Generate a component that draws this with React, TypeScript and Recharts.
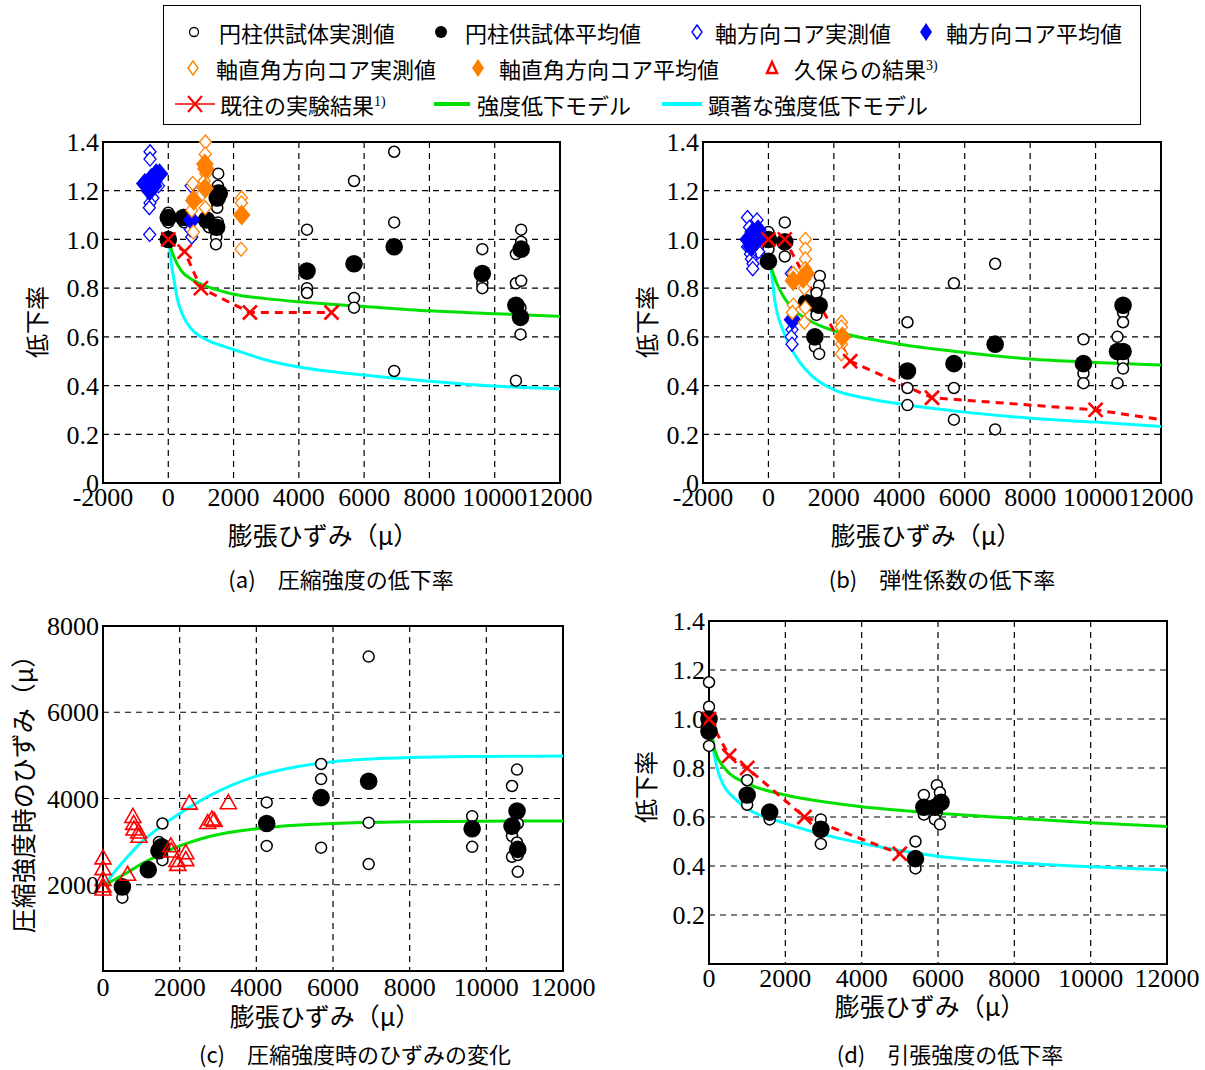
import React from 'react';
import { ScatterChart, Scatter, XAxis, YAxis, CartesianGrid, ReferenceArea } from 'recharts';

// ---- (a) 圧縮強度の低下率 ----
const aCylMeas = [
  [0, 1.11], [0, 1.07], [20, 0.99], [470, 1.1], [480, 1.07],
  [1150, 1.09], [1200, 1.06], [1250, 1.05],
  [1530, 1.27], [1520, 1.22], [1500, 1.2], [1490, 1.15], [1500, 1.13], [1520, 1.07], [1480, 1.03], [1470, 1.01], [1460, 0.98],
  [4250, 1.04], [4250, 0.8], [4250, 0.78],
  [5690, 1.24], [5690, 0.76], [5690, 0.72],
  [6920, 1.36], [6920, 1.07], [6920, 0.46],
  [9620, 0.96], [9620, 0.82], [9620, 0.8],
  [10810, 1.04], [10810, 0.99], [10650, 0.94], [10650, 0.82], [10810, 0.83], [10790, 0.72], [10790, 0.61], [10650, 0.42],
];
const aCylAvg = [
  [0, 1.09], [0, 1.0], [470, 1.09], [1170, 1.08], [1480, 1.05], [1500, 1.17], [1560, 1.19],
  [4250, 0.87], [5690, 0.9], [6920, 0.97], [9620, 0.86], [10810, 0.96], [10650, 0.73], [10790, 0.68],
];
const aAxMeas = [
  [-560, 1.36], [-560, 1.33], [-480, 1.26], [-420, 1.23], [-520, 1.2], [-470, 1.17], [-560, 1.15], [-580, 1.13],
  [-570, 1.02], [-300, 1.22], [-380, 1.24], [700, 1.22], [720, 1.01], [680, 1.04],
];
const aAxAvg = [[-720, 1.23], [-520, 1.25], [-370, 1.27], [-270, 1.27], [-570, 1.2], [-450, 1.22], [710, 1.08]];
const aTrMeas = [
  [1140, 1.4], [1130, 1.35], [1120, 1.3], [1150, 1.27], [1100, 1.24], [1130, 1.13], [1000, 1.18],
  [750, 1.23], [760, 1.17], [720, 1.12], [770, 1.03],
  [2240, 1.17], [2240, 1.15], [2250, 1.1], [2230, 0.96],
];
const aTrAvg = [[1120, 1.31], [1150, 1.29], [1130, 1.21], [780, 1.16], [2250, 1.1]];
const aPrev = [[0, 1.0], [500, 0.95], [1000, 0.8], [2500, 0.7], [5000, 0.7]];
const aModel = [
  [40, 0.98], [180, 0.926], [400, 0.871], [710, 0.837], [1010, 0.816], [1500, 0.793], [2000, 0.775],
  [3000, 0.757], [4000, 0.744], [6000, 0.725], [8000, 0.707], [10000, 0.695], [12000, 0.684],
];
const aSevere = [
  [40, 0.97], [95, 0.9], [180, 0.83], [270, 0.76], [430, 0.693], [710, 0.632], [1000, 0.6], [1400, 0.575],
  [2000, 0.548], [3000, 0.505], [4000, 0.476], [6000, 0.443], [8000, 0.418], [10000, 0.398], [12000, 0.386],
];

// ---- (b) 弾性係数の低下率 ----
const bCylMeas = [
  [0, 1.03], [0, 0.96], [500, 1.07], [500, 0.98], [500, 0.93],
  [1570, 0.85], [1550, 0.81], [1470, 0.78], [1470, 0.71], [1470, 0.69], [1420, 0.56], [1550, 0.53],
  [4250, 0.66], [4250, 0.39], [4250, 0.32], [5670, 0.82], [5670, 0.39], [5670, 0.26],
  [6930, 0.9], [6930, 0.22], [9630, 0.59], [9630, 0.45], [9630, 0.41],
  [10840, 0.7], [10840, 0.66], [10670, 0.6], [10840, 0.5], [10840, 0.47], [10670, 0.41],
];
const bCylAvg = [
  [0, 1.0], [0, 0.91], [500, 0.99], [1160, 0.74], [1550, 0.73], [1420, 0.6],
  [4250, 0.46], [5670, 0.49], [6930, 0.57], [9630, 0.49], [10840, 0.73], [10670, 0.54], [10840, 0.54],
];
const bAxMeas = [
  [-640, 1.09], [-350, 1.08], [-580, 1.05], [-420, 1.02], [-640, 0.97], [-300, 0.95], [-550, 0.94],
  [-520, 0.92], [-470, 0.9], [-480, 0.88], [700, 0.86], [720, 0.63], [700, 0.6], [720, 0.57],
];
const bAxAvg = [[-620, 1.0], [-470, 1.03], [-320, 1.04], [-520, 0.97], [-270, 1.01], [-420, 1.0], [735, 0.67]];
const bTrMeas = [
  [1130, 1.0], [1130, 0.96], [1130, 0.92], [1130, 0.88], [1100, 0.8], [1130, 0.72], [1100, 0.66],
  [760, 0.86], [760, 0.73], [730, 0.7],
  [2230, 0.66], [2230, 0.64], [2230, 0.6], [2230, 0.57], [2230, 0.53],
];
const bTrAvg = [[760, 0.83], [1060, 0.84], [1160, 0.86], [2260, 0.6]];
const bPrev = [[0, 1.0], [500, 1.0], [2500, 0.5], [5000, 0.35], [10000, 0.3]];
const bPrevLine = [[0, 1.0], [500, 1.0], [2500, 0.5], [5000, 0.35], [10000, 0.3], [12000, 0.26]];
const bModel = [
  [70, 0.89], [245, 0.823], [450, 0.768], [755, 0.714], [1265, 0.666], [2000, 0.625], [3000, 0.593],
  [4000, 0.57], [6000, 0.536], [8000, 0.509], [10000, 0.495], [12000, 0.484],
];
const bSevere = [
  [70, 0.89], [120, 0.836], [175, 0.768], [265, 0.7], [430, 0.632], [650, 0.564], [960, 0.495], [1320, 0.441],
  [2000, 0.383], [3000, 0.348], [4000, 0.325], [6000, 0.291], [8000, 0.266], [10000, 0.25], [12000, 0.232],
];

// ---- (c) 圧縮強度時のひずみの変化 ----
const cCylMeas = [
  [505, 1700], [1550, 3420], [1460, 2990], [1480, 2800], [1550, 2650], [1550, 2570],
  [4270, 3910], [4270, 2900], [5690, 4800], [5690, 4450], [5690, 2860],
  [6930, 7290], [6930, 3440], [6930, 2480], [9630, 3590], [9630, 2880],
  [10800, 4670], [10670, 4290], [10820, 3420], [10670, 3130], [10800, 2980], [10670, 2650], [10820, 2690], [10820, 2300],
];
const cCylAvg = [
  [505, 1950], [1180, 2350], [1460, 2790], [1530, 2880], [4270, 3420], [5690, 4020],
  [6930, 4400], [9630, 3300], [10670, 3360], [10800, 3710], [10820, 2820],
];
const cKubo = [
  [0, 2600], [0, 2350], [0, 2100], [0, 1950], [0, 1880], [640, 2220],
  [780, 3560], [800, 3400], [810, 3270], [930, 3200], [940, 3100],
  [1770, 2880], [1780, 2760], [1930, 2540], [1950, 2450], [2160, 2720], [2160, 2560],
  [2250, 3870], [2730, 3420], [2840, 3500], [2900, 3470], [3270, 3880],
];
const cModel = [
  [50, 2000], [590, 2260], [1000, 2480], [1460, 2690], [2000, 2900], [2770, 3120], [4000, 3300],
  [5000, 3380], [6000, 3420], [8000, 3460], [10000, 3475], [12000, 3480],
];
const cSevere = [
  [50, 2000], [300, 2300], [590, 2600], [1000, 2990], [1460, 3320], [2000, 3650], [2770, 4060], [4000, 4520],
  [4950, 4720], [6000, 4850], [8000, 4950], [10000, 4975], [12000, 4985],
];

// ---- (d) 引張強度の低下率 ----
const dCylMeas = [
  [0, 1.15], [0, 1.05], [0, 0.97], [0, 0.89], [1000, 0.75], [1000, 0.68], [1000, 0.65],
  [1590, 0.61], [1590, 0.59], [2930, 0.59], [2930, 0.49], [5410, 0.5], [5410, 0.39],
  [5630, 0.69], [5630, 0.61], [5970, 0.73], [6050, 0.7], [5970, 0.62], [5920, 0.59], [6050, 0.57],
];
const dCylAvg = [
  [0, 1.0], [0, 0.95], [1000, 0.69], [1590, 0.62], [2930, 0.55], [5410, 0.43],
  [5630, 0.64], [5920, 0.64], [6080, 0.66],
];
const dPrev = [[0, 1.0], [530, 0.85], [1000, 0.8], [2500, 0.6], [5000, 0.45]];
const dModel = [
  [30, 1.0], [150, 0.873], [450, 0.792], [1000, 0.737], [2000, 0.69], [3000, 0.662], [4000, 0.642],
  [6000, 0.615], [8000, 0.595], [10000, 0.577], [12000, 0.561],
];
const dSevere = [
  [30, 0.98], [105, 0.887], [280, 0.765], [720, 0.669], [1000, 0.635], [2000, 0.574], [3000, 0.528],
  [4000, 0.493], [6000, 0.44], [8000, 0.414], [10000, 0.397], [12000, 0.384],
];

const xTicksAB = [-2000, 0, 2000, 4000, 6000, 8000, 10000, 12000];
const xTicksCD = [0, 2000, 4000, 6000, 8000, 10000, 12000];
const yTicksAB = [0, 0.2, 0.4, 0.6, 0.8, 1.0, 1.2, 1.4];
const yTicksC = [2000, 4000, 6000, 8000];
const yTicksD = [0.2, 0.4, 0.6, 0.8, 1.0, 1.2, 1.4];

const BLUE = '#0000ff';
const ORANGE = '#ff8000';
const RED = '#ff0000';
const GREEN = '#00e000';
const CYAN = '#00ffff';
const W = 1205;
const H = 1070;
const JP = '"Noto Sans CJK JP", sans-serif';
const SERIF = '"Liberation Serif", "Times New Roman", serif';

const pts = (rows: number[][]) => rows.map(([x, y]) => ({ x, y }));

// marker shapes
const noShape = () => <g />;
const openCircle = (p: any) => <circle cx={p.cx} cy={p.cy} r={5.5} fill="#fff" stroke="#000" strokeWidth={1.5} />;
const fullCircle = (p: any) => <circle cx={p.cx} cy={p.cy} r={8.8} fill="#000" />;
const diamond = (color: string, filled: boolean) => (p: any) => {
  const w = filled ? 8 : 6;
  const h = filled ? 9.5 : 7;
  return (
    <polygon
      points={`${p.cx},${p.cy - h} ${p.cx + w},${p.cy} ${p.cx},${p.cy + h} ${p.cx - w},${p.cy}`}
      fill={filled ? color : '#fff'}
      stroke={color}
      strokeWidth={1.3}
    />
  );
};
const triangle = (p: any) => (
  <polygon
    points={`${p.cx},${p.cy - 9} ${p.cx + 8},${p.cy + 5} ${p.cx - 8},${p.cy + 5}`}
    fill="none"
    stroke={RED}
    strokeWidth={1.6}
  />
);
const xMark = (p: any) => (
  <g stroke={RED} strokeWidth={2.6}>
    <line x1={p.cx - 7} y1={p.cy - 7} x2={p.cx + 7} y2={p.cy + 7} />
    <line x1={p.cx - 7} y1={p.cy + 7} x2={p.cx + 7} y2={p.cy - 7} />
  </g>
);

const curve = (key: string, rows: number[][], color: string, dashed = false) => (
  <Scatter
    key={key}
    data={pts(rows)}
    line={{ stroke: color, strokeWidth: 3, strokeDasharray: dashed ? '8 6' : undefined }}
    lineJointType={dashed ? 'linear' : 'monotoneX'}
    shape={noShape}
    isAnimationActive={false}
  />
);
const marks = (key: string, rows: number[][], shape: any) => (
  <Scatter key={key} data={pts(rows)} shape={shape} isAnimationActive={false} />
);

const tickStyle = { fill: '#000', fontSize: 26, fontFamily: 'Liberation Serif' };

type PanelProps = {
  box: { x: number; y: number; w: number; h: number };
  xDomain: number[];
  xTicks: number[];
  yDomain: number[];
  yTicks: number[];
  xMargin: number;
  yFmt: (v: number) => string;
  children: React.ReactNode;
};

function Panel({ box, xDomain, xTicks, yDomain, yTicks, xMargin, yFmt, children }: PanelProps) {
  const YW = 70;
  const XH = 40;
  return (
    <div style={{ position: 'absolute', left: 0, top: 0 }}>
      <ScatterChart
        width={W}
        height={H}
        style={{ fontFamily: SERIF }}
        margin={{ left: box.x - YW, top: box.y, right: W - box.x - box.w, bottom: H - box.y - box.h - XH }}
      >
        <CartesianGrid stroke="#000" strokeDasharray="6 5" strokeWidth={1.2} />
        <XAxis
          type="number"
          dataKey="x"
          domain={xDomain}
          ticks={xTicks}
          interval={0}
          height={XH}
          tickLine={false}
          axisLine={false}
          tickSize={0}
          tickMargin={xMargin}
          tick={tickStyle}
        />
        <YAxis
          type="number"
          dataKey="y"
          domain={yDomain}
          ticks={yTicks}
          interval={0}
          width={YW}
          tickLine={false}
          axisLine={false}
          tickSize={0}
          tickMargin={4}
          tick={tickStyle}
          tickFormatter={yFmt}
        />
        {children}
        <ReferenceArea
          x1={xDomain[0]}
          x2={xDomain[1]}
          y1={yDomain[0]}
          y2={yDomain[1]}
          fill="none"
          fillOpacity={0}
          stroke="#000"
          strokeWidth={2}
        />
      </ScatterChart>
    </div>
  );
}

const ratioFmt = (v: number) => (v === 0 ? '0' : v.toFixed(1));
const intFmt = (v: number) => String(v);

function Txt({ x, y, size, children, rotate, anchor = 'center' }: any) {
  const tx = anchor === 'center' ? '-50%' : '0';
  return (
    <div
      style={{
        position: 'absolute',
        left: x,
        top: y,
        transform: `translate(${tx}, -50%)${rotate ? ' rotate(-90deg)' : ''}`,
        transformOrigin: anchor === 'center' ? 'center' : 'left center',
        fontFamily: JP,
        fontSize: size,
        whiteSpace: 'nowrap',
        lineHeight: 1,
        color: '#000',
      }}
    >
      {children}
    </div>
  );
}

function Icon({ x, y, children, w = 44 }: any) {
  return (
    <svg style={{ position: 'absolute', left: x - w / 2, top: y - 12 }} width={w} height={24}>
      {children}
    </svg>
  );
}

function LegendBox() {
  const c = 12;
  const sup = (s: string) => <sup style={{ fontFamily: SERIF, fontSize: 14, verticalAlign: '8px' }}>{s}</sup>;
  return (
    <>
      <div style={{ position: 'absolute', left: 163, top: 5, width: 978, height: 120, border: '1.5px solid #000', boxSizing: 'border-box' }} />
      <Icon x={194} y={32}><circle cx={22} cy={c} r={4.5} fill="#fff" stroke="#000" strokeWidth={1.3} /></Icon>
      <Txt x={219} y={32} size={22} anchor="left">円柱供試体実測値</Txt>
      <Icon x={441} y={32}><circle cx={22} cy={c} r={6} fill="#000" /></Icon>
      <Txt x={465} y={32} size={22} anchor="left">円柱供試体平均値</Txt>
      <Icon x={697} y={32}><polygon points="22,5 27,12 22,19 17,12" fill="#fff" stroke={BLUE} strokeWidth={1.4} /></Icon>
      <Txt x={715} y={32} size={22} anchor="left">軸方向コア実測値</Txt>
      <Icon x={926} y={32}><polygon points="22,3 28,12 22,21 16,12" fill={BLUE} /></Icon>
      <Txt x={946} y={32} size={22} anchor="left">軸方向コア平均値</Txt>

      <Icon x={193} y={68}><polygon points="22,5 27,12 22,19 17,12" fill="#fff" stroke={ORANGE} strokeWidth={1.4} /></Icon>
      <Txt x={216} y={68} size={22} anchor="left">軸直角方向コア実測値</Txt>
      <Icon x={478} y={68}><polygon points="22,3 28,12 22,21 16,12" fill={ORANGE} /></Icon>
      <Txt x={499} y={68} size={22} anchor="left">軸直角方向コア平均値</Txt>
      <Icon x={772} y={68}><polygon points="22,6 27,17 17,17" fill="#fff" stroke={RED} strokeWidth={2.4} /></Icon>
      <Txt x={794} y={68} size={22} anchor="left">久保らの結果{sup('3)')}</Txt>

      <Icon x={195} y={104}>
        <line x1={2} y1={c} x2={42} y2={c} stroke={RED} strokeWidth={1.5} />
        <line x1={15} y1={4} x2={29} y2={20} stroke={RED} strokeWidth={2} />
        <line x1={15} y1={20} x2={29} y2={4} stroke={RED} strokeWidth={2} />
      </Icon>
      <Txt x={220} y={104} size={22} anchor="left">既往の実験結果{sup('1)')}</Txt>
      <Icon x={452} y={104}><line x1={4} y1={c} x2={40} y2={c} stroke={GREEN} strokeWidth={4} /></Icon>
      <Txt x={477} y={104} size={22} anchor="left">強度低下モデル</Txt>
      <Icon x={682} y={104}><line x1={2} y1={c} x2={42} y2={c} stroke={CYAN} strokeWidth={4} /></Icon>
      <Txt x={708} y={104} size={22} anchor="left">顕著な強度低下モデル</Txt>
    </>
  );
}

export default function App() {
  return (
    <div style={{ position: 'absolute', left: 0, top: 0, width: W, height: H, background: '#fff', overflow: 'hidden' }}>
      <style>{`.recharts-cartesian-axis-tick text, .recharts-text { font-family: ${SERIF}; }`}</style>
      <Panel box={{ x: 103, y: 142, w: 457, h: 341 }} xDomain={[-2000, 12000]} xTicks={xTicksAB} yDomain={[0, 1.4]} yTicks={yTicksAB} xMargin={5} yFmt={ratioFmt}>
        {[
          curve('as', aSevere, CYAN),
          curve('am', aModel, GREEN),
          curve('ap', aPrev, RED, true),
          marks('acm', aCylMeas, openCircle),
          marks('aca', aCylAvg, fullCircle),
          marks('axm', aAxMeas, diamond(BLUE, false)),
          marks('axa', aAxAvg, diamond(BLUE, true)),
          marks('atm', aTrMeas, diamond(ORANGE, false)),
          marks('ata', aTrAvg, diamond(ORANGE, true)),
          marks('apx', aPrev, xMark),
        ]}
      </Panel>
      <Panel box={{ x: 703, y: 142, w: 458, h: 341 }} xDomain={[-2000, 12000]} xTicks={xTicksAB} yDomain={[0, 1.4]} yTicks={yTicksAB} xMargin={5} yFmt={ratioFmt}>
        {[
          curve('bs', bSevere, CYAN),
          curve('bm', bModel, GREEN),
          curve('bp', bPrevLine, RED, true),
          marks('bcm', bCylMeas, openCircle),
          marks('bca', bCylAvg, fullCircle),
          marks('bxm', bAxMeas, diamond(BLUE, false)),
          marks('bxa', bAxAvg, diamond(BLUE, true)),
          marks('btm', bTrMeas, diamond(ORANGE, false)),
          marks('bta', bTrAvg, diamond(ORANGE, true)),
          marks('bpx', bPrev, xMark),
        ]}
      </Panel>
      <Panel box={{ x: 103, y: 626, w: 460, h: 345 }} xDomain={[0, 12000]} xTicks={xTicksCD} yDomain={[0, 8000]} yTicks={yTicksC} xMargin={7} yFmt={intFmt}>
        {[
          curve('cs', cSevere, CYAN),
          curve('cm', cModel, GREEN),
          marks('ccm', cCylMeas, openCircle),
          marks('cca', cCylAvg, fullCircle),
          marks('ck', cKubo, triangle),
        ]}
      </Panel>
      <Panel box={{ x: 709, y: 621, w: 458, h: 343 }} xDomain={[0, 12000]} xTicks={xTicksCD} yDomain={[0, 1.4]} yTicks={yTicksD} xMargin={5} yFmt={ratioFmt}>
        {[
          curve('ds', dSevere, CYAN),
          curve('dm', dModel, GREEN),
          curve('dp', dPrev, RED, true),
          marks('dcm', dCylMeas, openCircle),
          marks('dca', dCylAvg, fullCircle),
          marks('dpx', dPrev, xMark),
        ]}
      </Panel>

      <LegendBox />

      <Txt x={36} y={322} size={24} rotate>低下率</Txt>
      <Txt x={646} y={322} size={24} rotate>低下率</Txt>
      <Txt x={22} y={788} size={25} rotate>圧縮強度時のひずみ（μ）</Txt>
      <Txt x={645} y={787} size={24} rotate>低下率</Txt>

      <Txt x={323} y={534} size={25}>膨張ひずみ（μ）</Txt>
      <Txt x={926} y={534} size={25}>膨張ひずみ（μ）</Txt>
      <Txt x={325} y={1015} size={25}>膨張ひずみ（μ）</Txt>
      <Txt x={930} y={1005} size={25}>膨張ひずみ（μ）</Txt>

      <Txt x={341} y={578} size={22}>(a)　圧縮強度の低下率</Txt>
      <Txt x={942} y={578} size={22}>(b)　弾性係数の低下率</Txt>
      <Txt x={355} y={1053} size={22}>(c)　圧縮強度時のひずみの変化</Txt>
      <Txt x={950} y={1053} size={22}>(d)　引張強度の低下率</Txt>
    </div>
  );
}
